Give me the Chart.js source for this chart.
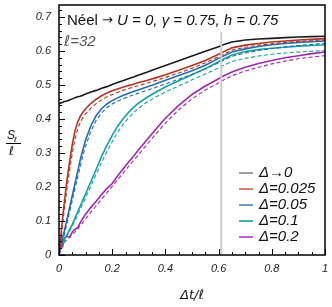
<!DOCTYPE html>
<html>
<head>
<meta charset="utf-8">
<script src="https://cdn.jsdelivr.net/npm/chart.js@4"></script>
<style>
  body { margin: 0; background: #fff; }
</style>
</head>
<body>
<canvas id="myChart" width="332" height="307"></canvas>
<script>
// shared time axis (Δt/ℓ)
const xs = [0, 0.005, 0.01, 0.015, 0.02, 0.03, 0.04, 0.05, 0.06, 0.07, 0.08, 0.09, 0.1, 0.12, 0.14, 0.16, 0.18, 0.2,
  0.22, 0.24, 0.26, 0.28, 0.3, 0.33, 0.36, 0.4, 0.45, 0.5, 0.55, 0.6, 0.62, 0.65, 0.7, 0.75, 0.8, 0.85, 0.9, 0.95, 1];

const labels = ['Δ→0', 'Δ=0.025', 'Δ=0.05', 'Δ=0.1', 'Δ=0.2'];
const xTicks = [0, 0.2, 0.4, 0.6, 0.8, 1];
const yTicks = [0, 0.1, 0.2, 0.3, 0.4, 0.5, 0.6, 0.7];

// S_ℓ/ℓ, solid lines
const black = [.445, .446, .448, .449, .451, .453, .456, .459, .462, .465, .467, .470, .473, .479, .484, .490, .495, .501,
  .507, .512, .518, .523, .529, .537, .546, .557, .571, .585, .599, .612, .619, .626, .632, .635, .637, .639, .641, .642, .643];
const red = [0, .04, .08, .12, .155, .22, .275, .325, .365, .39, .408, .42, .43, .446, .458, .468, .476, .483,
  .488, .493, .498, .502, .507, .513, .52, .53, .543, .557, .572, .59, .598, .609, .617, .622, .626, .629, .632, .634, .636];
const blue = [0, .02, .04, .055, .07, .105, .14, .175, .21, .245, .28, .31, .338, .38, .41, .43, .444, .454,
  .462, .469, .475, .481, .486, .494, .502, .514, .528, .542, .558, .578, .586, .597, .606, .613, .618, .622, .625, .627, .629];
const teal = [0, .03, .045, .035, .045, .06, .075, .09, .108, .126, .144, .162, .18, .216, .252, .29, .322, .352,
  .378, .4, .418, .434, .447, .463, .477, .494, .512, .53, .548, .568, .576, .588, .598, .604, .608, .611, .614, .616, .618];
const magenta = [0, .025, .05, .03, .05, .055, .052, .068, .075, .08, .095, .108, .12, .14, .158, .178, .195, .21,
  .232, .252, .272, .29, .31, .338, .366, .402, .44, .472, .497, .518, .527, .538, .552, .563, .572, .58, .586, .592, .597];

// dashed companions
const redDash = [0, .03, .065, .10, .135, .195, .25, .3, .34, .37, .39, .404, .415, .432, .445, .456, .465, .472,
  .478, .484, .489, .494, .498, .505, .512, .522, .535, .549, .565, .583, .591, .602, .611, .617, .621, .625, .628, .63, .632];
const blueDash = [0, .015, .03, .045, .06, .093, .127, .16, .195, .228, .26, .292, .32, .364, .396, .418, .433, .444,
  .452, .459, .465, .471, .476, .484, .492, .503, .517, .531, .547, .565, .573, .584, .594, .601, .607, .612, .616, .619, .622];
const tealDash = [0, .015, .025, .03, .04, .055, .07, .085, .101, .118, .135, .152, .169, .203, .238, .272, .304, .333,
  .36, .383, .402, .418, .432, .449, .463, .479, .497, .515, .532, .55, .558, .569, .578, .585, .59, .594, .597, .599, .601];
const magentaDash = [0, .01, .02, .03, .038, .045, .052, .06, .068, .077, .086, .096, .106, .126, .145, .164, .183, .202,
  .221, .24, .259, .278, .296, .324, .352, .388, .427, .459, .485, .506, .515, .527, .541, .552, .562, .57, .577, .582, .586];

// vertical marker
const markerX = 0.61;
const markerTop = 0.655;

const lineColors = ['#1a1a1a', '#b03524', '#236cb0', '#17a0a0', '#9d2aab'];
const legendColors = ['#a0a0a0', '#d8826f', '#6b9fd3', '#42b3ae', '#c25fca'];

function pts(ys) {
    return xs.map((x, i) => ({ x: x, y: ys[i] }));
}

const solids = [black, red, blue, teal, magenta];
const dashes = [null, redDash, blueDash, tealDash, magentaDash];

var datasets = [{
    data: [{ x: markerX, y: 0 }, { x: markerX, y: markerTop }],
    borderColor: '#cccccc', borderWidth: 2, pointRadius: 0
}];
for (let i = 0; i < solids.length; i++) {
    if (dashes[i]) {
        datasets.push({ data: pts(dashes[i]), borderColor: lineColors[i], borderWidth: 1.1,
            borderDash: [4, 2.5], pointRadius: 0, tension: 0 });
    }
    datasets.push({ data: pts(solids[i]), borderColor: lineColors[i], borderWidth: 1.6,
        pointRadius: 0, tension: 0 });
}

//inward ticks, frame, texts and legend
const decor = {
    id: 'decor',
    afterDraw(chart) {
        const ctx = chart.ctx;
        const a = chart.chartArea;
        const xS = chart.scales.x, yS = chart.scales.y;
        ctx.save();
        ctx.strokeStyle = '#000';
        ctx.lineWidth = 1;
        for (let k = 0; k <= 36; k++) {
            const py = Math.round(yS.getPixelForValue(k * 0.02)) + 0.5;
            const len = (k % 5 == 0) ? 6 : 3;
            ctx.beginPath(); ctx.moveTo(a.left, py); ctx.lineTo(a.left + len, py); ctx.stroke();
        }
        for (let k = 0; k <= 20; k++) {
            const px = Math.round(xS.getPixelForValue(k * 0.05)) + 0.5;
            const len = (k % 4 == 0) ? 6 : 3;
            ctx.beginPath(); ctx.moveTo(px, a.bottom); ctx.lineTo(px, a.bottom - len); ctx.stroke();
        }
        ctx.lineWidth = 1.5;
        ctx.strokeRect(a.left, a.top, a.right - a.left, a.bottom - a.top);

        // title inside the plot
        ctx.fillStyle = '#111';
        ctx.textBaseline = 'middle';
        ctx.textAlign = 'left';
        let tx = a.left + 8;
        ctx.font = '15px "Liberation Sans", Arial, sans-serif';
        ctx.fillText('Néel ', tx, 21);
        tx += ctx.measureText('Néel ').width;
        ctx.font = '13px "DejaVu Sans", sans-serif';
        ctx.fillText('→', tx, 21);
        tx += ctx.measureText('→ ').width;
        ctx.font = 'italic 15px "Liberation Sans", Arial, sans-serif';
        ctx.fillText('U = 0, γ = 0.75, h = 0.75', tx, 21);

        ctx.fillStyle = '#555';
        ctx.font = 'italic 15px "DejaVu Sans", sans-serif';
        ctx.fillText('ℓ', a.left + 5, 42);
        let lx = a.left + 5 + ctx.measureText('ℓ').width;
        ctx.font = 'italic 15px "Liberation Sans", Arial, sans-serif';
        ctx.fillText('=32', lx, 42);

        // y label as a fraction
        ctx.fillStyle = '#111';
        ctx.font = 'italic 12px "Liberation Sans", Arial, sans-serif';
        ctx.fillText('S', 7, 136);
        ctx.font = 'italic 7px "DejaVu Sans", sans-serif';
        ctx.fillText('ℓ', 14, 140);
        ctx.lineWidth = 1;
        ctx.beginPath(); ctx.moveTo(6, 143.5); ctx.lineTo(21, 143.5); ctx.stroke();
        ctx.font = 'italic 12px "DejaVu Sans", sans-serif';
        ctx.fillText('ℓ', 9, 152);

        // legend
        for (let i = 0; i < labels.length; i++) {
            const ly = 173 + i * 16;
            ctx.strokeStyle = legendColors[i];
            ctx.lineWidth = 2;
            ctx.beginPath(); ctx.moveTo(239, ly); ctx.lineTo(253, ly); ctx.stroke();
            ctx.fillStyle = '#111';
            ctx.font = 'italic 15px "Liberation Sans", Arial, sans-serif';
            ctx.fillText(labels[i], 259, ly);
        }
        ctx.restore();
    }
};

Chart.defaults.font.family = '"Liberation Sans", Arial, sans-serif';
new Chart('myChart', {
    type: 'line',
    data: { datasets: datasets },
    options: {
        responsive: false,
        animation: false,
        layout: { padding: { top: 5, right: 7, left: 0, bottom: 0 } },
        plugins: { legend: { display: false }, tooltip: { enabled: false } },
        scales: {
            x: {
                type: 'linear', min: 0, max: 1,
                grid: { display: false, drawTicks: false },
                border: { display: false },
                ticks: { padding: 7, color: '#222', font: { size: 11, style: 'italic' },
                    autoSkip: false, callback: (v) => String(v) },
                afterBuildTicks(scale) { scale.ticks = xTicks.map(v => ({ value: v })); },
                title: { display: true, text: 'Δt/ℓ', color: '#111', padding: { top: 12 },
                    font: { size: 13, style: 'italic', family: '"DejaVu Sans", sans-serif' } },
                afterFit(scale) { scale.height = 52; scale.paddingLeft = 0; scale.paddingRight = 0; }
            },
            y: {
                min: 0, max: 0.735,
                grid: { display: false, drawTicks: false },
                border: { display: false },
                ticks: { padding: 8, color: '#222', font: { size: 11, style: 'italic' },
                    autoSkip: false, callback: (v) => String(v) },
                afterBuildTicks(scale) { scale.ticks = yTicks.map(v => ({ value: v })); },
                afterFit(scale) { scale.width = 59; scale.paddingTop = 0; scale.paddingBottom = 0; }
            }
        }
    },
    plugins: [decor]
});
</script>
</body>
</html>
